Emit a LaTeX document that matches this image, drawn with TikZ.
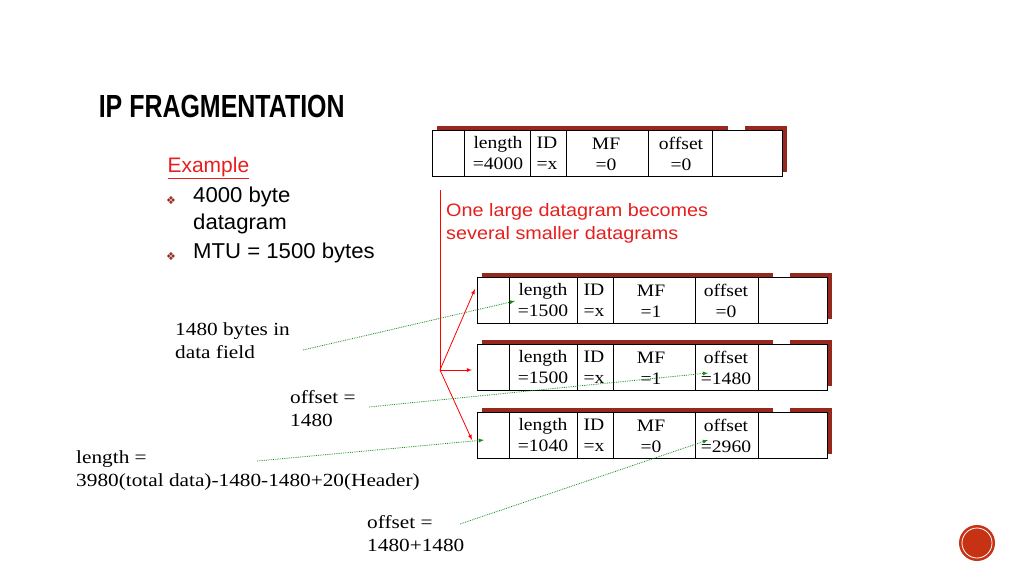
\documentclass[tikz,border=0pt]{standalone}
\usepackage{fontspec}
\setmainfont{Liberation Serif}
\newfontfamily\sansf{Liberation Sans}
\newfontfamily\symf{DejaVu Sans}
\usetikzlibrary{positioning}
\definecolor{shadowred}{RGB}{150,40,30}
\definecolor{textred}{RGB}{230,30,30}
\definecolor{dotgreen}{RGB}{20,140,20}
\definecolor{ballred}{RGB}{200,50,20}
\tikzset{
    field/.style = {font=\fontsize{17.5}{21}\selectfont, align=center, inner sep=0pt, xscale=1.12},
    note/.style = {font=\fontsize{18.5}{23}\selectfont, align=left, anchor=north west, inner sep=0pt, xscale=1.15},
    fragarrow/.style = {red, thick, -latex},
    pointer/.style = {dotgreen, thick, densely dotted, -latex}
}
% packet: name, left x, top y, length, MF, offset, divider positions
\newcommand{\packet}[9]{
    \fill[shadowred] (#2+5,#3-4) rectangle (#2+355,#3+42);
    \fill[white] (#2+296,#3-5) rectangle (#2+313,#3+1);
    \fill[white] (#2,#3) rectangle (#2+350,#3+46);
    \draw[thick] (#2,#3) rectangle (#2+350,#3+46);
    \foreach \d in {#7} \draw[thick] (#2+\d,#3) -- (#2+\d,#3+46);
    \node[field] (#1len) at (#2+#8,#3+23) {length\\=#4};
    \node[field] (#1id) at (#2+#9+17,#3+23) {ID\\=x};
    \node[field] (#1mf) at (#2+174,#3+24) {MF\\=#5};
    \node[field] (#1off) at (#2+249,#3+24) {offset\\=#6};
}
\begin{document}
\begin{tikzpicture}[x=1pt, y=-1pt]
    \useasboundingbox (0,0) rectangle (1024,576);

    \node[anchor=west, font=\sansf\bfseries\fontsize{32}{34}\selectfont, xscale=0.78] (title) at (96,106) {IP FRAGMENTATION};

    \node[anchor=west, font=\sansf\fontsize{21}{25}\selectfont, textred] (example) at (164,168) {\underline{Example}};
    \node[anchor=north west, font=\sansf\fontsize{21.5}{27}\selectfont, align=left, inner sep=0pt, xscale=1.03] (bul) at (193,187)
        {4000 byte\\datagram\\[2pt]MTU = 1500 bytes};
    \node[font=\symf\fontsize{11}{11}\selectfont, shadowred] at (171,201) {❖};
    \node[font=\symf\fontsize{11}{11}\selectfont, shadowred] at (171,257) {❖};

    \packet{big}{432}{130}{4000}{0}{0}{32,98,134,216,280}{66}{98}
    \packet{fa}{477}{277}{1500}{1}{0}{32,100,136,218,281}{66}{100}
    \packet{fb}{477}{344}{1500}{1}{1480}{32,100,136,218,281}{66}{100}
    \packet{fc}{477}{412}{1040}{0}{2960}{32,100,136,218,281}{66}{100}

    \node[anchor=north west, font=\sansf\fontsize{18}{23}\selectfont, align=left, textred, inner sep=0pt, xscale=1.1] (msg) at (446,203)
        {One large datagram becomes\\several smaller datagrams};

    \coordinate (fork) at (440,370);
    \draw[red, thick] (440,190) -- (fork);
    \draw[fragarrow] (fork) -- (475,289);
    \draw[fragarrow] (fork) -- (472,370);
    \draw[fragarrow] (fork) -- (472,440);

    \node[note] (n1) at (175,322) {1480 bytes in\\data field};
    \node[note] (n2) at (290,390) {offset =\\1480};
    \node[note] (n3) at (76,450) {length =\\3980(total data)-1480-1480+20(Header)};
    \node[note] (n4) at (367,515) {offset =\\1480+1480};

    \coordinate (p1) at (303,350);
    \coordinate (p2) at (369,407);
    \coordinate (p3) at (257,461);
    \coordinate (p4) at (460,524);
    \draw[pointer] (p1) -- (515,301);
    \draw[pointer] (p2) -- (708,373);
    \draw[pointer] (p3) -- (484,440);
    \draw[pointer] (p4) -- (708,440);

    \fill[ballred] (977,543) circle (18);
    \draw[white, thick] (977,543) circle (15);
\end{tikzpicture}
\end{document}
